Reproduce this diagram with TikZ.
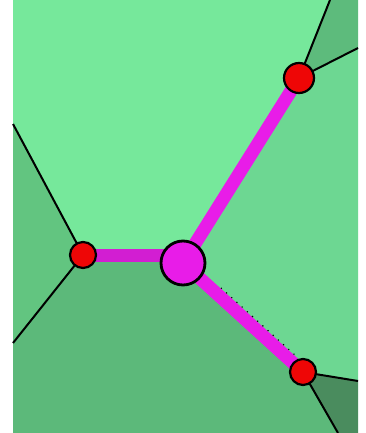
\documentclass[tikz,border=0pt]{standalone}
\usepackage{tikz}
\usetikzlibrary{calc}
\definecolor{topgreen}{HTML}{76E89B}
\definecolor{rightgreen}{HTML}{6DD792}
\definecolor{leftgreen}{HTML}{62C580}
\definecolor{lowgreen}{HTML}{5CB97A}
\definecolor{cornergreen}{HTML}{5DBB7C}
\definecolor{darkgreen}{HTML}{4A8C5E}
\definecolor{magenta}{HTML}{E81CE8}
\definecolor{barmagenta}{HTML}{D21ED2}
\definecolor{dotred}{HTML}{EE0606}
\tikzset{
  border/.style={black,line width=2pt},
  edge/.style={magenta,line width=13pt},
  reddot/.style={circle,fill=dotred,draw=black,line width=2.2pt,inner sep=0pt,minimum size=#1},
  reddot/.default=26pt,
  hub/.style={circle,fill=magenta,draw=black,line width=2.8pt,inner sep=0pt,minimum size=44pt}
}

\begin{document}
\begin{tikzpicture}[x=1pt,y=-1pt]
\useasboundingbox (0,0) rectangle (366,433);
\fill[white] (0,0) rectangle (366,433);
% sites
\coordinate (a) at (83,255);
\coordinate (b) at (299,78);
\coordinate (c) at (183,263);
\coordinate (d) at (303,372);
% cells
\fill[topgreen] (13,0) rectangle (358,433);
\fill[leftgreen] (13,124)--(a)--(13,343)--cycle;
\fill[lowgreen] (13,343)--(a)--(a-|c)--(c)--(d)--(338,433)--(13,433)--cycle;
\fill[rightgreen] (c)--(b)--(358,48)--(358,381)--(d)--cycle;
\fill[cornergreen] (b)--(330,0)--(358,0)--(358,48)--cycle;
\fill[darkgreen] (d)--(358,381)--(358,433)--(338,433)--cycle;
\draw[border] (13,124)--(a)--(13,343);
\draw[border] (330,0)--(b)--(358,48);
\draw[border] (358,381)--(d)--(338,433);
% tree
\draw[edge,barmagenta] (a)--(a-|c);
\draw[edge] (c)--(b);
\draw[edge] (c)--(d);
\draw[black,line width=1.6pt,line cap=round,dash pattern=on 0pt off 7pt]
  ($(c)!0.28!(d)+(4.8,-5.3)$)--($(c)!0.92!(d)+(4.8,-5.3)$);
\node[reddot] (dotA) at (a) {};
\node[reddot=30pt] (dotB) at (b) {};
\node[reddot] (dotD) at (d) {};
\node[hub] (hubC) at (c) {};
\end{tikzpicture}
\end{document}
